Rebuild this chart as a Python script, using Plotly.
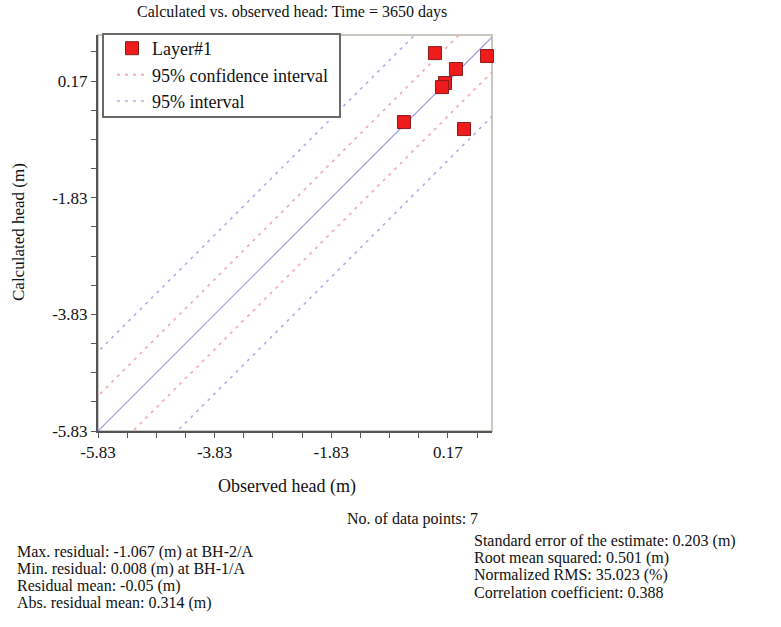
import plotly.graph_objects as go

# ---- data ----
observed = [-0.053, 0.307, 0.839, 0.119, 0.067, -0.584, 0.445]
calculated = [0.650, 0.376, 0.599, 0.136, 0.067, -0.533, -0.653]
tick_vals = [-5.83, -3.83, -1.83, 0.17]
tick_text = ["-5.83", "-3.83", "-1.83", "0.17"]
axis_min = -5.83
x_max = 0.925
y_max = 0.96
conf_offset = 0.6       # 95% confidence interval half-width
pred_offset = 1.36      # 95% interval half-width

title_text = "Calculated vs. observed head: Time = 3650 days"
x_title = "Observed head (m)"
y_title = "Calculated head (m)"
n_points_text = "No. of data points: 7"
left_stats = ["Max. residual: -1.067 (m) at BH-2/A",
              "Min. residual: 0.008 (m) at BH-1/A",
              "Residual mean: -0.05 (m)",
              "Abs. residual mean: 0.314 (m)"]
right_stats = ["Standard error of the estimate: 0.203 (m)",
               "Root mean squared: 0.501 (m)",
               "Normalized RMS: 35.023 (%)",
               "Correlation coefficient: 0.388"]

W, H = 781, 627
L, R, T, B = 98, 492, 35, 431
FONT = "Liberation Serif"


def px(xp):
    return (xp - L) / (R - L)


def py(yp):
    return (B - yp) / (B - T)


lo = axis_min
hi = max(x_max, y_max) + 2

fig = go.Figure()
# 1:1 line
fig.add_trace(go.Scatter(x=[lo, hi], y=[lo, hi], mode="lines",
                         line=dict(color="#9c9ce8", width=1.2),
                         showlegend=False, hoverinfo="skip"))
# confidence interval
for k, s in enumerate([1, -1]):
    fig.add_trace(go.Scatter(x=[lo - 2, hi], y=[lo - 2 + s * conf_offset, hi + s * conf_offset],
                             mode="lines", line=dict(color="#f3a6b0", width=1.6, dash="3px,5px"),
                             name="95% confidence interval", legendgroup="ci",
                             showlegend=(k == 0), legendrank=2))
for k, s in enumerate([1, -1]):
    fig.add_trace(go.Scatter(x=[lo - 2, hi], y=[lo - 2 + s * pred_offset, hi + s * pred_offset],
                             mode="lines", line=dict(color="#aeaeec", width=1.6, dash="3px,5px"),
                             name="95% interval", legendgroup="pi",
                             showlegend=(k == 0), legendrank=3))
fig.add_trace(go.Scatter(x=observed, y=calculated, mode="markers",
                         marker=dict(symbol="square", size=13, color="#ee1c1c",
                                     line=dict(color="#8a1a1a", width=1)),
                         name="Layer#1", legendrank=1, cliponaxis=False))

axis_common = dict(
    tickmode="array", tickvals=tick_vals, ticktext=tick_text,
    ticks="outside", ticklen=5, tickwidth=1, tickcolor="#555",
    minor=dict(dtick=0.5, tick0=axis_min, ticks="outside", ticklen=5, tickcolor="#555", showgrid=False),
    showgrid=False, zeroline=False, showline=True, linecolor="#555", linewidth=2,
    tickfont=dict(family=FONT, size=17, color="#111"),
)
fig.update_xaxes(range=[axis_min, x_max], **axis_common)
fig.update_yaxes(range=[axis_min, y_max], **axis_common)

shapes = [
    # light frame (top/right)
    dict(type="rect", xref="paper", yref="paper", x0=0, y0=0, x1=1, y1=1,
         line=dict(color="#c8c8c0", width=2), layer="below"),
    # legend box
    dict(type="rect", xref="paper", yref="paper", x0=px(103), y0=py(117), x1=px(340), y1=py(34),
         line=dict(color="#6a6a66", width=2), fillcolor="white", layer="above"),
]

ann = []
ann.append(dict(text=title_text, x=px(292), y=py(12), xref="paper", yref="paper",
                showarrow=False, xanchor="center", yanchor="middle",
                font=dict(family=FONT, size=16, color="#111")))
ann.append(dict(text=x_title, x=px(287), y=py(486), xref="paper", yref="paper",
                showarrow=False, xanchor="center", yanchor="middle",
                font=dict(family=FONT, size=18, color="#111")))
ann.append(dict(text=y_title, x=px(18), y=py(232), xref="paper", yref="paper",
                showarrow=False, xanchor="center", yanchor="middle", textangle=-90,
                font=dict(family=FONT, size=17, color="#111")))
ann.append(dict(text=n_points_text, x=px(345), y=py(519), xref="paper", yref="paper",
                showarrow=False, xanchor="left", yanchor="middle",
                font=dict(family=FONT, size=16, color="#111")))
for i, t in enumerate(left_stats):
    ann.append(dict(text=t, x=px(15), y=py(552 + 17 * i), xref="paper", yref="paper",
                    showarrow=False, xanchor="left", yanchor="middle",
                    font=dict(family=FONT, size=16, color="#111")))
for i, t in enumerate(right_stats):
    ann.append(dict(text=t, x=px(472), y=py(541 + 17 * i), xref="paper", yref="paper",
                    showarrow=False, xanchor="left", yanchor="middle",
                    font=dict(family=FONT, size=16, color="#111")))

fig.update_layout(
    width=W, height=H,
    margin=dict(l=L, r=W - R, t=T, b=H - B, pad=0),
    paper_bgcolor="white", plot_bgcolor="white",
    shapes=shapes, annotations=ann,
    legend=dict(x=px(112), y=py(30), xanchor="left", yanchor="top",
                bgcolor="rgba(0,0,0,0)", borderwidth=0,
                font=dict(family=FONT, size=18, color="#111"),
                tracegroupgap=0, traceorder="normal"),
    showlegend=True,
)

fig.write_html("out.html")
